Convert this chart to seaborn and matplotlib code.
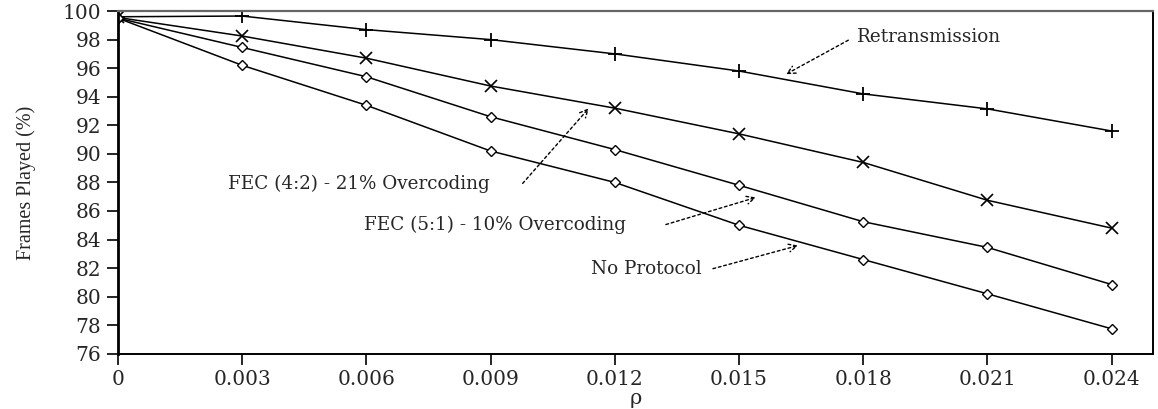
import matplotlib
matplotlib.use("Agg")
import matplotlib.pyplot as plt
import seaborn as sns
import numpy as np
import pandas as pd

# ---- data ----
rho = [0.0, 0.003, 0.006, 0.009, 0.012, 0.015, 0.018, 0.021, 0.024]
retransmission = [99.6, 99.65, 98.7, 98.0, 97.0, 95.8, 94.2, 93.15, 91.6]
fec_42 = [99.55, 98.25, 96.7, 94.75, 93.2, 91.4, 89.4, 86.75, 84.8]
fec_51 = [99.5, 97.45, 95.4, 92.6, 90.3, 87.8, 85.25, 83.45, 80.85]
no_protocol = [99.5, 96.2, 93.4, 90.2, 88.0, 85.0, 82.6, 80.2, 77.75]

xticks = [0, 0.003, 0.006, 0.009, 0.012, 0.015, 0.018, 0.021, 0.024]
xtick_labels = ["0", "0.003", "0.006", "0.009", "0.012", "0.015", "0.018", "0.021", "0.024"]
yticks = list(range(76, 101, 2))

sns.set_theme(style="white")
plt.rcParams["font.family"] = ["DejaVu Serif", "DejaVu Sans"]

fig = plt.figure(figsize=(11.58, 4.09), dpi=100)
ax = fig.add_axes([0.1019, 0.135, 0.8938, 0.838])

series = [
    ("Retransmission", retransmission, "+", 10, 1.3),
    ("FEC (4:2) - 21% Overcoding", fec_42, "x", 9, 1.2),
    ("FEC (5:1) - 10% Overcoding", fec_51, "D", 5.5, 1.0),
    ("No Protocol", no_protocol, "D", 5.5, 1.0),
]
for name, vals, mk, ms, mew in series:
    df = pd.DataFrame({"rho": rho, "val": vals})
    sns.lineplot(data=df, x="rho", y="val", ax=ax, color="black", lw=1.1,
                 marker=mk, markersize=ms, markeredgewidth=mew,
                 markerfacecolor="white" if mk == "D" else "black",
                 markeredgecolor="black", legend=False)

ax.set_xlim(0, 0.025)
ax.set_ylim(76, 100)
ax.set_xticks(xticks)
ax.set_xticklabels(xtick_labels)
ax.set_yticks(yticks)
ax.tick_params(axis="both", which="major", direction="out", length=8, width=1.2,
               color="black", labelsize=14.5, left=True, bottom=True, pad=4)
for lab in ax.get_xticklabels() + ax.get_yticklabels():
    lab.set_family("DejaVu Serif")

for s in ["left", "bottom", "right"]:
    ax.spines[s].set_color("black")
    ax.spines[s].set_linewidth(1.4)
ax.spines["left"].set_linewidth(2.0)
ax.spines["top"].set_color("#666666")
ax.spines["top"].set_linewidth(1.6)

ax.set_xlabel("ρ", fontsize=15, family="DejaVu Serif", labelpad=0)
ax.set_ylabel("Frames Played (%)", fontsize=14.5, family="Liberation Serif", labelpad=19)

arrow = dict(arrowstyle="->", linestyle=(0, (2, 2)), color="black", lw=1.0,
             shrinkA=0, shrinkB=0, mutation_scale=14)
tf = dict(fontsize=13.2, family="DejaVu Serif", va="center")

# labels
ax.text(0.017855, 98.18, "Retransmission", ha="left", **tf)
ax.text(0.00266, 87.93, "FEC (4:2) - 21% Overcoding", ha="left", **tf)
ax.text(0.00593, 85.05, "FEC (5:1) - 10% Overcoding", ha="left", **tf)
ax.text(0.01142, 81.96, "No Protocol", ha="left", **tf)

# dotted arrows
ax.annotate("", xy=(0.016137, 95.58), xytext=(0.01764, 97.96), arrowprops=arrow)
ax.annotate("", xy=(0.011371, 93.19), xytext=(0.009774, 87.93), arrowprops=arrow)
ax.annotate("", xy=(0.01541, 86.95), xytext=(0.013234, 85.05), arrowprops=arrow)
ax.annotate("", xy=(0.016427, 83.58), xytext=(0.014371, 81.96), arrowprops=arrow)

fig.savefig("out.png", dpi=100)
